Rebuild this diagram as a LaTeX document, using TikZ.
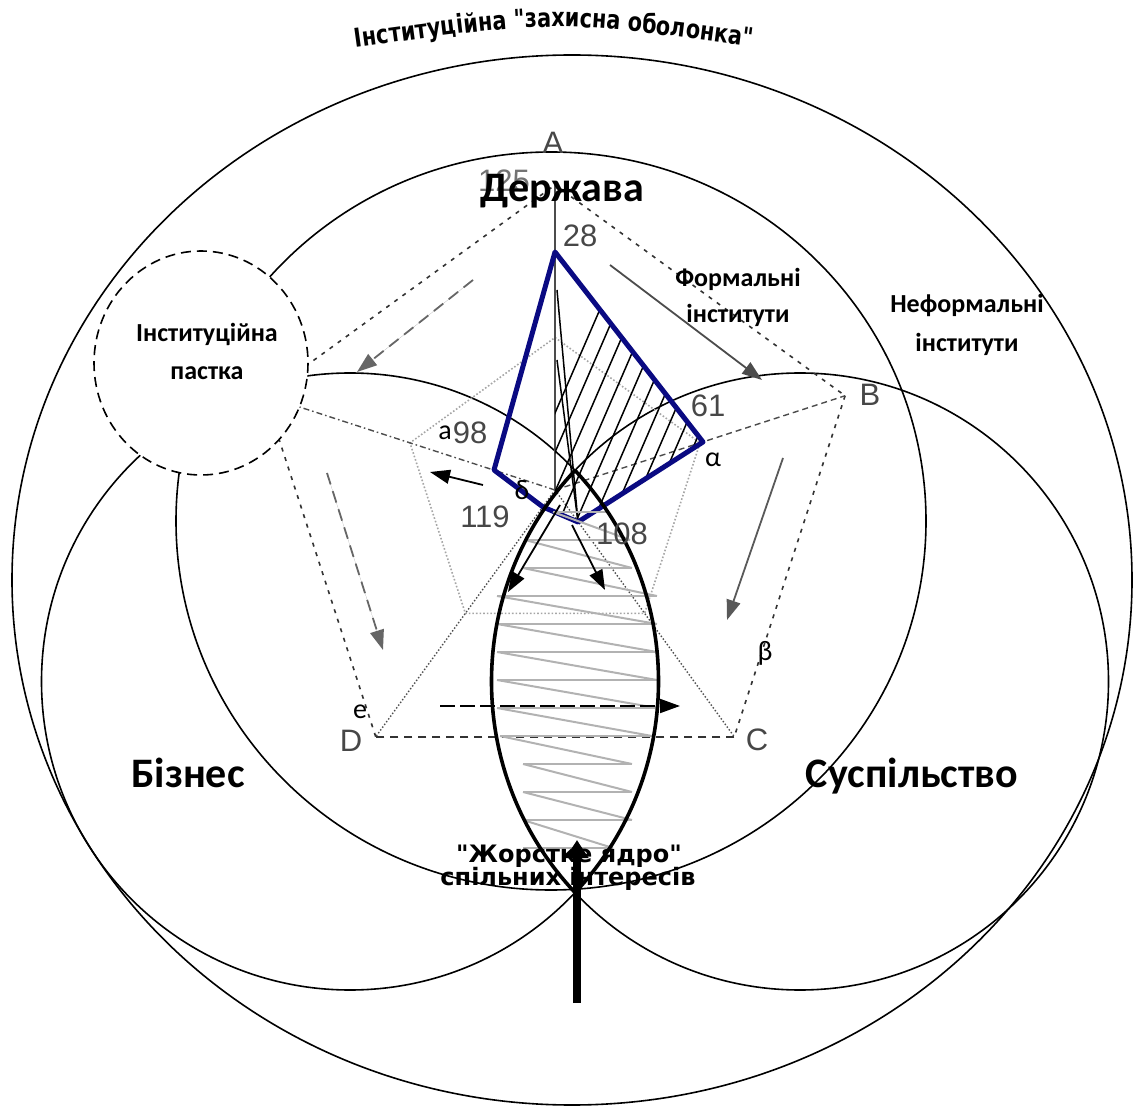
\documentclass[tikz,border=0pt]{standalone}
\usepackage{fontspec}
\setmainfont{Carlito}
\newfontfamily\chartfont{Liberation Sans}
\newfontfamily\heavyfont[FakeStretch=0.8]{DejaVu Sans Bold}
\newfontfamily\heavywide{DejaVu Sans Bold}
\usetikzlibrary{arrows.meta,decorations.text}
\tikzset{
  circ/.style={draw=black, line width=0.8pt},
  rim/.style={draw=black!80, line width=0.8pt, dash pattern=on 2pt off 3pt},
  grid/.style={draw=black!35, line width=0.8pt, densely dotted},
  axis/.style={draw=black!70, line width=0.7pt},
  hatch/.style={draw=black, line width=0.75pt},
  zig/.style={draw=black!30, line width=1pt},
  flow/.style={-{Triangle[length=10pt,width=7pt]}, line width=0.9pt},
  lbl/.style={anchor=base, inner sep=0pt, font=\fontsize{21}{24}\selectfont\bfseries},
  small/.style={anchor=base, inner sep=0pt, font=\fontsize{13}{16}\selectfont\bfseries},
  num/.style={inner sep=0pt, text=black!72, font=\chartfont\fontsize{15.5}{18}\selectfont},
  greek/.style={inner sep=0pt, font=\fontsize{14}{16}\selectfont},
  core/.style={anchor=base, inner sep=0pt, font=\heavywide\fontsize{12}{14}\selectfont}
}
\begin{document}
\begin{tikzpicture}[x=0.5pt, y=-0.5pt]
\useasboundingbox (0,0) rectangle (1134,1111);
% the shell and the three spheres
\draw[circ] (572,580) ellipse[x radius=560, y radius=525];
\draw[circ] (551,521) ellipse[x radius=375, y radius=369];
\draw[circ] (350,681.5) circle[radius=308.5];
\draw[circ] (800,681.5) circle[radius=308.5];

% radar chart
\coordinate (O) at (555,490);
\foreach \n/\a in {A/0,B/72,C/144,D/216,E/288}{
  \coordinate (\n) at ({555+305*sin(\a)},{490-305*cos(\a)});
  \coordinate (\n-h) at ({555+152.5*sin(\a)},{490-152.5*cos(\a)});
}
\draw[grid] (A-h) -- (B-h) -- (C-h) -- (D-h) -- (E-h) -- cycle;
\foreach \p/\q in {A/B,B/C,D/E,E/A}{\draw[rim] (\p) -- (\q);}
\draw[rim, dash pattern=on 4pt off 3pt] (C) -- (D);
\draw[axis] (O) -- (A);
\draw[axis, dash pattern=on 3pt off 2pt] (O) -- (B);
\draw[axis, densely dotted] (O) -- (C);
\draw[axis, densely dotted] (O) -- (D);
\draw[axis, dash pattern=on 3pt off 1.5pt on 0.8pt off 1.5pt] (O) -- (E);

\coordinate (Ad) at (555,252);
\coordinate (Bd) at (703,442);
\coordinate (Cd) at (578,522);
\coordinate (Dd) at (543,507);
\coordinate (Ed) at (494,470);
\begin{scope}
  \clip (Ad) -- (Bd) -- (Cd) -- (555,505) -- cycle;
  \foreach \x in {500,517,...,800}{\draw[hatch] (\x,540) -- ++(130,-300);}
  \foreach \t in {290,360}{\draw[hatch] (Cd) -- (557,\t);}
\end{scope}
\draw[draw={rgb,255:red,10;green,10;blue,130}, line width=2.5pt, line join=round]
  (Ad) -- (Bd) -- (Cd) -- (Dd) -- (Ed) -- cycle;

% hard core
\foreach \y/\l/\r/\ny/\nr in {512/553/607/540/630, 540/525/630/568/632,
    568/523/632/596/657, 596/497/657/624/657, 624/497/657/652/657,
    652/497/657/680/657, 680/497/657/708/657, 708/497/657/736/652,
    736/500/652/764/632, 764/523/632/792/632, 792/523/632/820/632,
    820/523/632/848/613}{
  \draw[zig] (\l,\y) -- (\r,\y);
  \draw[zig] (\l,\y) -- (\nr,\ny);
}
\draw[zig] (523,848) -- (613,848);
\begin{scope}
  \clip (350,681.5) circle[radius=308.5];
  \draw[line width=1.8pt] (800,681.5) circle[radius=308.5];
\end{scope}
\begin{scope}
  \clip (800,681.5) circle[radius=308.5];
  \draw[line width=1.8pt] (350,681.5) circle[radius=308.5];
\end{scope}

% arrows
\coordinate (f1) at (610,265);  \coordinate (f2) at (762,380);
\coordinate (s1) at (783,458);  \coordinate (s2) at (727,620);
\coordinate (t1) at (473,280);  \coordinate (t2) at (357,372);
\coordinate (b1) at (327,473);  \coordinate (b2) at (383,650);
\coordinate (h1) at (440,706);  \coordinate (h2) at (680,706);
\coordinate (e1) at (483,485);  \coordinate (e2) at (430,472);
\coordinate (l1) at (560,505);  \coordinate (l2) at (508,592);
\coordinate (r1) at (572,525);  \coordinate (r2) at (605,590);
\draw[flow, draw=black!70, fill=black!70] (f1) -- (f2);
\draw[flow, draw=black!65, fill=black!65] (s1) -- (s2);
\draw[flow, draw=black!60, fill=black!60, dash pattern=on 6pt off 3.5pt] (t1) -- (t2);
\draw[flow, draw=black!60, fill=black!60, dash pattern=on 6pt off 3.5pt] (b1) -- (b2);
\draw[flow, dash pattern=on 7.5pt off 2.5pt] (h1) -- (h2);
\draw[flow] (e1) -- (e2);
\draw[flow] (l1) -- (l2);
\draw[flow] (r1) -- (r2);

% institutional trap
\draw[fill=white, line width=0.8pt, dash pattern=on 5pt off 3pt]
  (201,363) ellipse[x radius=107, y radius=112];

% texts
\path[decorate, decoration={text along path, text align=center,
  text={|\heavyfont\fontsize{13}{15}\selectfont|Інституційна "захисна оболонка"}}]
  (352,48) .. controls (554,20) .. (756,47);
\node[num] (lA) at (553,143) {A};
\node[num] (lB) at (870,395) {B};
\node[num] (lC) at (757,740) {C};
\node[num] (lD) at (351,741) {D};
\node[num, text=black!55] (v125) at (504,181) {125};
\node[num] (v28) at (580,236) {28};
\node[num] (v61) at (708,406) {61};
\node[num] (v98) at (470,433) {98};
\node[num] (v119) at (485,517) {119};
\node[num] (v108) at (622,534) {108};
\node[greek] (ga) at (445,433) {а};
\node[greek] (galpha) at (713,460) {α};
\node[greek] (gdelta) at (522,490) {δ};
\node[greek] (gbeta) at (765,653) {β};
\node[greek] (ge) at (360,712) {e};
\node[lbl] (state) at (562,202) {Держава};
\node[lbl] (business) at (188,787) {Бізнес};
\node[lbl] (society) at (912,787) {Суспільство};
\node[small] (formal1) at (738,287) {Формальні};
\node[small] (formal2) at (738,323) {інститути};
\node[small] (informal1) at (967,313) {Неформальні};
\node[small] (informal2) at (967,352) {інститути};
\node[small] (trap1) at (207,342) {Інституційна};
\node[small] (trap2) at (207,380) {пастка};
\node[core] (core1) at (569,862) {"Жорстке ядро"};
\node[core] (core2) at (568,885) {спільних інтересів};
\coordinate (k1) at (577,1003); \coordinate (k2) at (577,840);
\draw[line width=4pt, -{Triangle[length=9pt,width=11pt]}] (k1) -- (k2);
\end{tikzpicture}
\end{document}
